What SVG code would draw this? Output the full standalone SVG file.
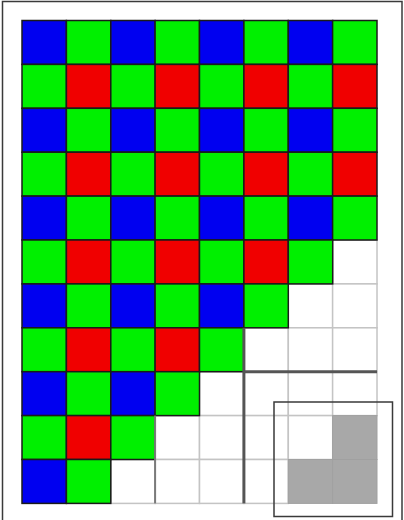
<svg xmlns="http://www.w3.org/2000/svg" width="404" height="520" viewBox="0 0 404 520">
<style>
.b{fill:#0000f0;stroke:#1a1a1a;stroke-width:1.5}
.g{fill:#00f000;stroke:#1a1a1a;stroke-width:1.5}
.r{fill:#f00000;stroke:#1a1a1a;stroke-width:1.5}
.w{fill:#ffffff;stroke:#c4c4c4;stroke-width:1.5}
.k{fill:#a8a8a8;stroke:#a0a0a0;stroke-width:1}
.thick{stroke:#555555;stroke-width:3;fill:none}
.med{stroke:#7a7a7a;stroke-width:2;fill:none}
.frame{fill:none;stroke:#3a3a3a;stroke-width:1.5}
</style>
<rect width="404" height="520" fill="#ffffff"/>
<rect id="outer-frame" class="frame" x="2.5" y="1.5" width="399.5" height="525"/>
<g id="cells">
<g id="white-cells">
<rect class="w" x="332.6" y="240" width="44.4" height="43.9"/>
<rect class="w" x="288.3" y="283.9" width="44.4" height="43.9"/>
<rect class="w" x="332.6" y="283.9" width="44.4" height="43.9"/>
<rect class="w" x="243.9" y="327.8" width="44.4" height="43.9"/>
<rect class="w" x="288.3" y="327.8" width="44.4" height="43.9"/>
<rect class="w" x="332.6" y="327.8" width="44.4" height="43.9"/>
<rect class="w" x="199.5" y="371.7" width="44.4" height="43.9"/>
<rect class="w" x="243.9" y="371.7" width="44.4" height="43.9"/>
<rect class="w" x="288.3" y="371.7" width="44.4" height="43.9"/>
<rect class="w" x="332.6" y="371.7" width="44.4" height="43.9"/>
<rect class="w" x="155.1" y="415.6" width="44.4" height="43.9"/>
<rect class="w" x="199.5" y="415.6" width="44.4" height="43.9"/>
<rect class="w" x="243.9" y="415.6" width="44.4" height="43.9"/>
<rect class="w" x="288.3" y="415.6" width="44.4" height="43.9"/>
<rect class="w" x="110.8" y="459.5" width="44.4" height="43.9"/>
<rect class="w" x="155.1" y="459.5" width="44.4" height="43.9"/>
<rect class="w" x="199.5" y="459.5" width="44.4" height="43.9"/>
<rect class="w" x="243.9" y="459.5" width="44.4" height="43.9"/>
</g>
<g id="gray-cells">
<rect class="k" x="332.6" y="415.6" width="44.4" height="43.9"/>
<rect class="k" x="288.3" y="459.5" width="44.4" height="43.9"/>
<rect class="k" x="332.6" y="459.5" width="44.4" height="43.9"/>
</g>
<g id="row0" transform="translate(0,20.5)">
<rect class="b" x="22" y="0" width="44.4" height="43.9"/>
<rect class="g" x="66.4" y="0" width="44.4" height="43.9"/>
<rect class="b" x="110.8" y="0" width="44.4" height="43.9"/>
<rect class="g" x="155.1" y="0" width="44.4" height="43.9"/>
<rect class="b" x="199.5" y="0" width="44.4" height="43.9"/>
<rect class="g" x="243.9" y="0" width="44.4" height="43.9"/>
<rect class="b" x="288.3" y="0" width="44.4" height="43.9"/>
<rect class="g" x="332.6" y="0" width="44.4" height="43.9"/>
</g>
<g id="row1" transform="translate(0,64.4)">
<rect class="g" x="22" y="0" width="44.4" height="43.9"/>
<rect class="r" x="66.4" y="0" width="44.4" height="43.9"/>
<rect class="g" x="110.8" y="0" width="44.4" height="43.9"/>
<rect class="r" x="155.1" y="0" width="44.4" height="43.9"/>
<rect class="g" x="199.5" y="0" width="44.4" height="43.9"/>
<rect class="r" x="243.9" y="0" width="44.4" height="43.9"/>
<rect class="g" x="288.3" y="0" width="44.4" height="43.9"/>
<rect class="r" x="332.6" y="0" width="44.4" height="43.9"/>
</g>
<g id="row2" transform="translate(0,108.3)">
<rect class="b" x="22" y="0" width="44.4" height="43.9"/>
<rect class="g" x="66.4" y="0" width="44.4" height="43.9"/>
<rect class="b" x="110.8" y="0" width="44.4" height="43.9"/>
<rect class="g" x="155.1" y="0" width="44.4" height="43.9"/>
<rect class="b" x="199.5" y="0" width="44.4" height="43.9"/>
<rect class="g" x="243.9" y="0" width="44.4" height="43.9"/>
<rect class="b" x="288.3" y="0" width="44.4" height="43.9"/>
<rect class="g" x="332.6" y="0" width="44.4" height="43.9"/>
</g>
<g id="row3" transform="translate(0,152.2)">
<rect class="g" x="22" y="0" width="44.4" height="43.9"/>
<rect class="r" x="66.4" y="0" width="44.4" height="43.9"/>
<rect class="g" x="110.8" y="0" width="44.4" height="43.9"/>
<rect class="r" x="155.1" y="0" width="44.4" height="43.9"/>
<rect class="g" x="199.5" y="0" width="44.4" height="43.9"/>
<rect class="r" x="243.9" y="0" width="44.4" height="43.9"/>
<rect class="g" x="288.3" y="0" width="44.4" height="43.9"/>
<rect class="r" x="332.6" y="0" width="44.4" height="43.9"/>
</g>
<g id="row4" transform="translate(0,196.1)">
<rect class="b" x="22" y="0" width="44.4" height="43.9"/>
<rect class="g" x="66.4" y="0" width="44.4" height="43.9"/>
<rect class="b" x="110.8" y="0" width="44.4" height="43.9"/>
<rect class="g" x="155.1" y="0" width="44.4" height="43.9"/>
<rect class="b" x="199.5" y="0" width="44.4" height="43.9"/>
<rect class="g" x="243.9" y="0" width="44.4" height="43.9"/>
<rect class="b" x="288.3" y="0" width="44.4" height="43.9"/>
<rect class="g" x="332.6" y="0" width="44.4" height="43.9"/>
</g>
<g id="row5" transform="translate(0,240)">
<rect class="g" x="22" y="0" width="44.4" height="43.9"/>
<rect class="r" x="66.4" y="0" width="44.4" height="43.9"/>
<rect class="g" x="110.8" y="0" width="44.4" height="43.9"/>
<rect class="r" x="155.1" y="0" width="44.4" height="43.9"/>
<rect class="g" x="199.5" y="0" width="44.4" height="43.9"/>
<rect class="r" x="243.9" y="0" width="44.4" height="43.9"/>
<rect class="g" x="288.3" y="0" width="44.4" height="43.9"/>
</g>
<g id="row6" transform="translate(0,283.9)">
<rect class="b" x="22" y="0" width="44.4" height="43.9"/>
<rect class="g" x="66.4" y="0" width="44.4" height="43.9"/>
<rect class="b" x="110.8" y="0" width="44.4" height="43.9"/>
<rect class="g" x="155.1" y="0" width="44.4" height="43.9"/>
<rect class="b" x="199.5" y="0" width="44.4" height="43.9"/>
<rect class="g" x="243.9" y="0" width="44.4" height="43.9"/>
</g>
<g id="row7" transform="translate(0,327.8)">
<rect class="g" x="22" y="0" width="44.4" height="43.9"/>
<rect class="r" x="66.4" y="0" width="44.4" height="43.9"/>
<rect class="g" x="110.8" y="0" width="44.4" height="43.9"/>
<rect class="r" x="155.1" y="0" width="44.4" height="43.9"/>
<rect class="g" x="199.5" y="0" width="44.4" height="43.9"/>
</g>
<g id="row8" transform="translate(0,371.7)">
<rect class="b" x="22" y="0" width="44.4" height="43.9"/>
<rect class="g" x="66.4" y="0" width="44.4" height="43.9"/>
<rect class="b" x="110.8" y="0" width="44.4" height="43.9"/>
<rect class="g" x="155.1" y="0" width="44.4" height="43.9"/>
</g>
<g id="row9" transform="translate(0,415.6)">
<rect class="g" x="22" y="0" width="44.4" height="43.9"/>
<rect class="r" x="66.4" y="0" width="44.4" height="43.9"/>
<rect class="g" x="110.8" y="0" width="44.4" height="43.9"/>
</g>
<g id="row10" transform="translate(0,459.5)">
<rect class="b" x="22" y="0" width="44.4" height="43.9"/>
<rect class="g" x="66.4" y="0" width="44.4" height="43.9"/>
</g>
</g>
<g id="dividers">
<line class="thick" x1="243.9" y1="327.8" x2="243.9" y2="503.4"/>
<line class="thick" x1="243.9" y1="371.7" x2="377" y2="371.7"/>
<line class="med" x1="155.1" y1="415.6" x2="155.1" y2="503.4"/>
</g>
<rect id="highlight-box" class="frame" x="274" y="402" width="118.5" height="114.5" stroke-width="1.3"/>
</svg>
